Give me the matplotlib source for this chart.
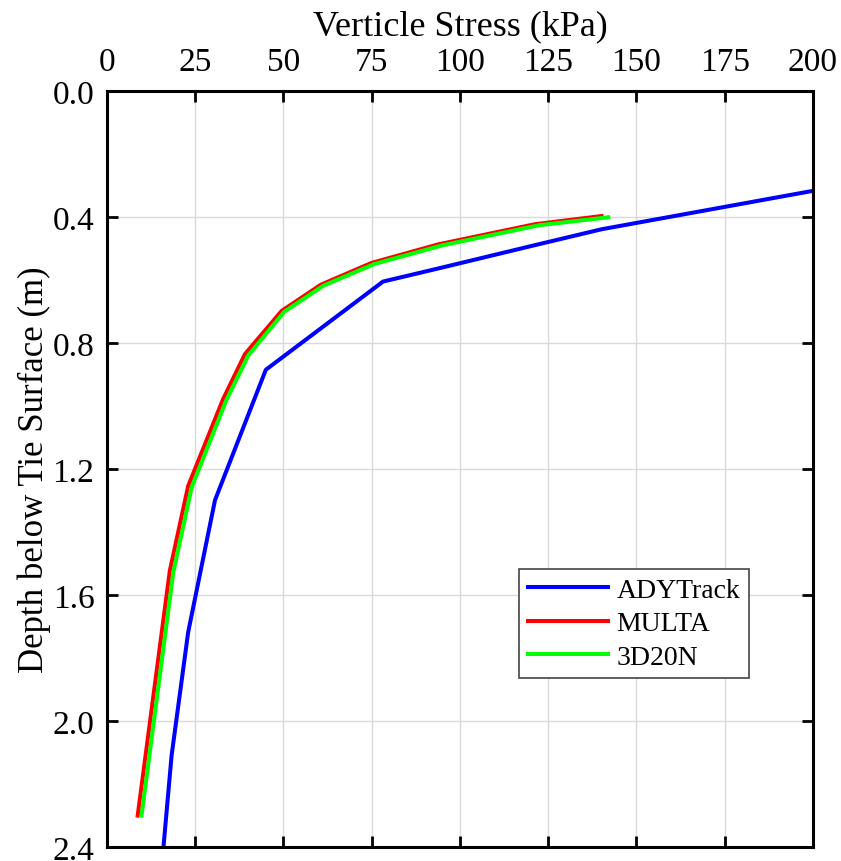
import matplotlib
matplotlib.use('Agg')
import matplotlib.pyplot as plt

plt.rcParams['font.family'] = ['Liberation Serif', 'DejaVu Serif']

# depth (m) vs vertical stress (kPa) for each model
ady_depth = [0.317, 0.439, 0.49, 0.563, 0.605, 0.885, 1.299, 1.718, 2.11, 2.40]
ady_stress = [200.0, 140.1, 121.0, 94.0, 78.2, 45.0, 30.6, 23.0, 18.3, 16.0]

multa_depth = [0.397, 0.423, 0.487, 0.546, 0.615, 0.698, 0.835, 0.978, 1.254, 1.523, 2.30]
multa_stress = [140.1, 121.2, 93.8, 74.9, 60.6, 49.5, 39.1, 32.9, 23.0, 17.8, 8.7]

d20n_depth = [0.401, 0.426, 0.490, 0.549, 0.618, 0.701, 0.840, 0.982, 1.258, 1.527, 2.30]
d20n_stress = [142.0, 122.5, 95.0, 75.8, 61.3, 50.2, 40.0, 33.8, 24.0, 18.8, 9.8]

x_ticks = [0, 25, 50, 75, 100, 125, 150, 175, 200]
y_ticks = [0.0, 0.4, 0.8, 1.2, 1.6, 2.0, 2.4]

fig = plt.figure(figsize=(8.41, 8.62), dpi=100)
ax = fig.add_axes([0.1272, 0.0162, 0.8395, 0.8771])

lw = 2.9
ax.plot(ady_stress, ady_depth, color='#0000FF', lw=lw, label='ADYTrack')
ax.plot(multa_stress, multa_depth, color='#FF0000', lw=lw, label='MULTA')
ax.plot(d20n_stress, d20n_depth, color='#00FF00', lw=lw, label='3D20N')

ax.set_xlim(0, 200)
ax.set_ylim(2.4, 0.0)
ax.set_xticks(x_ticks)
ax.set_yticks(y_ticks)
ax.set_yticklabels([f'{v:.1f}' for v in y_ticks])

ax.xaxis.set_label_position('top')
ax.xaxis.tick_top()
ax.tick_params(axis='both', which='both', direction='in', length=8, width=2,
               top=True, bottom=True, left=True, right=True,
               labeltop=True, labelbottom=False, labelsize=24)
ax.tick_params(axis='x', pad=10)
ax.tick_params(axis='y', pad=9)
ax.set_xlabel('Verticle Stress (kPa)', fontsize=26, labelpad=9)
ax.set_ylabel('Depth below Tie Surface (m)', fontsize=25, labelpad=1)

for sp in ax.spines.values():
    sp.set_linewidth(2.2)

ax.grid(True, color='#d9d9d9', lw=1)
ax.set_axisbelow(True)

leg = ax.legend(loc='upper left', bbox_to_anchor=(0.584, 0.368), borderaxespad=0,
                fontsize=20, fancybox=False, framealpha=1, edgecolor='#444444',
                handlelength=2.9, handletextpad=0.3, labelspacing=0.3,
                borderpad=0.3)
leg.get_frame().set_linewidth(1.2)

fig.savefig('out.png', dpi=100)
